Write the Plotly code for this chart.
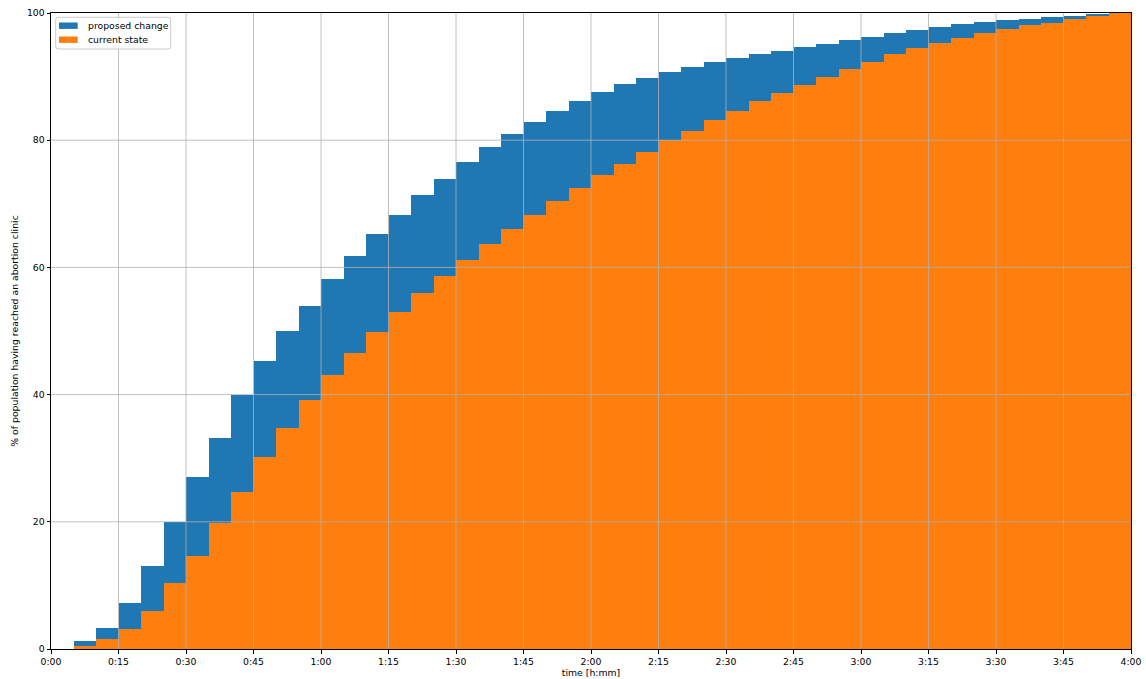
import plotly.graph_objects as go

# 5-minute travel-time bins (left edge, minutes)
bin_start = list(range(5, 240, 5))

# cumulative share of population (%) that has reached a clinic by each bin
proposed_change = [
    1.3, 3.3, 7.3, 13.1, 19.9, 27.0, 33.1, 40.0, 45.3, 50.0,
    54.0, 58.2, 61.8, 65.2, 68.3, 71.4, 73.9, 76.6, 79.0, 81.0,
    82.9, 84.6, 86.1, 87.6, 88.8, 89.8, 90.7, 91.5, 92.3, 93.0,
    93.6, 94.1, 94.6, 95.2, 95.7, 96.3, 96.8, 97.4, 97.8, 98.2,
    98.6, 98.9, 99.1, 99.4, 99.6, 99.9, 100.0,
]
current_state = [
    0.5, 1.6, 3.1, 6.0, 10.3, 14.7, 19.8, 24.7, 30.2, 34.8,
    39.1, 43.1, 46.5, 49.8, 53.0, 56.0, 58.7, 61.2, 63.7, 66.1,
    68.3, 70.4, 72.5, 74.5, 76.3, 78.2, 80.0, 81.5, 83.1, 84.6,
    86.1, 87.4, 88.7, 90.0, 91.2, 92.3, 93.5, 94.5, 95.3, 96.1,
    96.8, 97.5, 98.1, 98.5, 99.1, 99.6, 100.0,
]

series_names = ["proposed change", "current state"]
series_colors = ["#1f77b4", "#ff7f0e"]

x_tick_vals = list(range(0, 241, 15))
x_tick_text = [f"{v // 60}:{v % 60:02d}" for v in x_tick_vals]
y_tick_vals = [0, 20, 40, 60, 80, 100]

W, H = 1146, 679
ML, MR, MT, MB = 51, 15, 13, 30
PW, PH = W - ML - MR, H - MT - MB

FONT = "DejaVu Sans"
FS = 9.3


def px_x(px):
    return (px - ML) / PW


def px_y(py):
    return (H - MB - py) / PH


fig = go.Figure()
for name, vals, col in zip(series_names, [proposed_change, current_state], series_colors):
    fig.add_trace(go.Bar(
        x=bin_start, y=vals, width=5, offset=0, name=name,
        marker=dict(color=col, line=dict(width=0)),
        showlegend=False,
    ))

shapes = []
# grid drawn above the bars
for v in x_tick_vals[1:-1]:
    shapes.append(dict(type="line", xref="x", yref="paper", x0=v, x1=v, y0=0, y1=1,
                       line=dict(color="#b0b0b0", width=0.8), layer="above"))
for v in y_tick_vals[1:-1]:
    shapes.append(dict(type="line", xref="paper", yref="y", x0=0, x1=1, y0=v, y1=v,
                       line=dict(color="#b0b0b0", width=0.8), layer="above"))

# legend box with rounded corners
lx0, lx1, ly0, ly1, r = 55.7, 170.7, 17.3, 49.0, 2.5
pts = [
    f"M{px_x(lx0 + r)},{px_y(ly0)}",
    f"L{px_x(lx1 - r)},{px_y(ly0)}",
    f"Q{px_x(lx1)},{px_y(ly0)} {px_x(lx1)},{px_y(ly0 + r)}",
    f"L{px_x(lx1)},{px_y(ly1 - r)}",
    f"Q{px_x(lx1)},{px_y(ly1)} {px_x(lx1 - r)},{px_y(ly1)}",
    f"L{px_x(lx0 + r)},{px_y(ly1)}",
    f"Q{px_x(lx0)},{px_y(ly1)} {px_x(lx0)},{px_y(ly1 - r)}",
    f"L{px_x(lx0)},{px_y(ly0 + r)}",
    f"Q{px_x(lx0)},{px_y(ly0)} {px_x(lx0 + r)},{px_y(ly0)}",
    "Z",
]
shapes.append(dict(type="path", xref="paper", yref="paper", path=" ".join(pts),
                   fillcolor="rgba(255,255,255,0.8)", line=dict(color="#cccccc", width=1),
                   layer="above"))

annotations = []
row_y = [25.7, 39.7]
for name, col, cy in zip(series_names, series_colors, row_y):
    shapes.append(dict(type="rect", xref="paper", yref="paper",
                       x0=px_x(59.0), x1=px_x(77.7), y0=px_y(cy + 3.2), y1=px_y(cy - 3.2),
                       fillcolor=col, line=dict(width=0), layer="above"))
    annotations.append(dict(xref="paper", yref="paper", x=px_x(85.5), y=px_y(cy),
                            text=name, showarrow=False, xanchor="left", yanchor="middle",
                            font=dict(family=FONT, size=FS, color="#000000")))

fig.update_layout(
    template="none",
    width=W, height=H,
    margin=dict(l=ML, r=MR, t=MT, b=MB, pad=0, autoexpand=False),
    paper_bgcolor="white", plot_bgcolor="white",
    barmode="overlay", bargap=0,
    font=dict(family=FONT, size=FS, color="#000000"),
    shapes=shapes, annotations=annotations,
    showlegend=False,
)
fig.update_xaxes(
    range=[0, 240], tickvals=x_tick_vals, ticktext=x_tick_text,
    automargin=False, showgrid=False, zeroline=False,
    showline=True, mirror=True, linecolor="#000000", linewidth=1,
    ticks="outside", ticklen=3.5, tickwidth=0.8, tickcolor="#000000",
    title=dict(text="time [h:mm]", standoff=2, font=dict(family=FONT, size=FS)),
)
fig.update_yaxes(
    range=[0, 100], tickvals=y_tick_vals,
    automargin=False, showgrid=False, zeroline=False,
    showline=True, mirror=True, linecolor="#000000", linewidth=1,
    ticks="outside", ticklen=3.5, tickwidth=0.8, tickcolor="#000000",
    title=dict(text="% of population having reached an abortion clinic", standoff=6,
               font=dict(family=FONT, size=FS)),
)

fig.write_html("out.html")
